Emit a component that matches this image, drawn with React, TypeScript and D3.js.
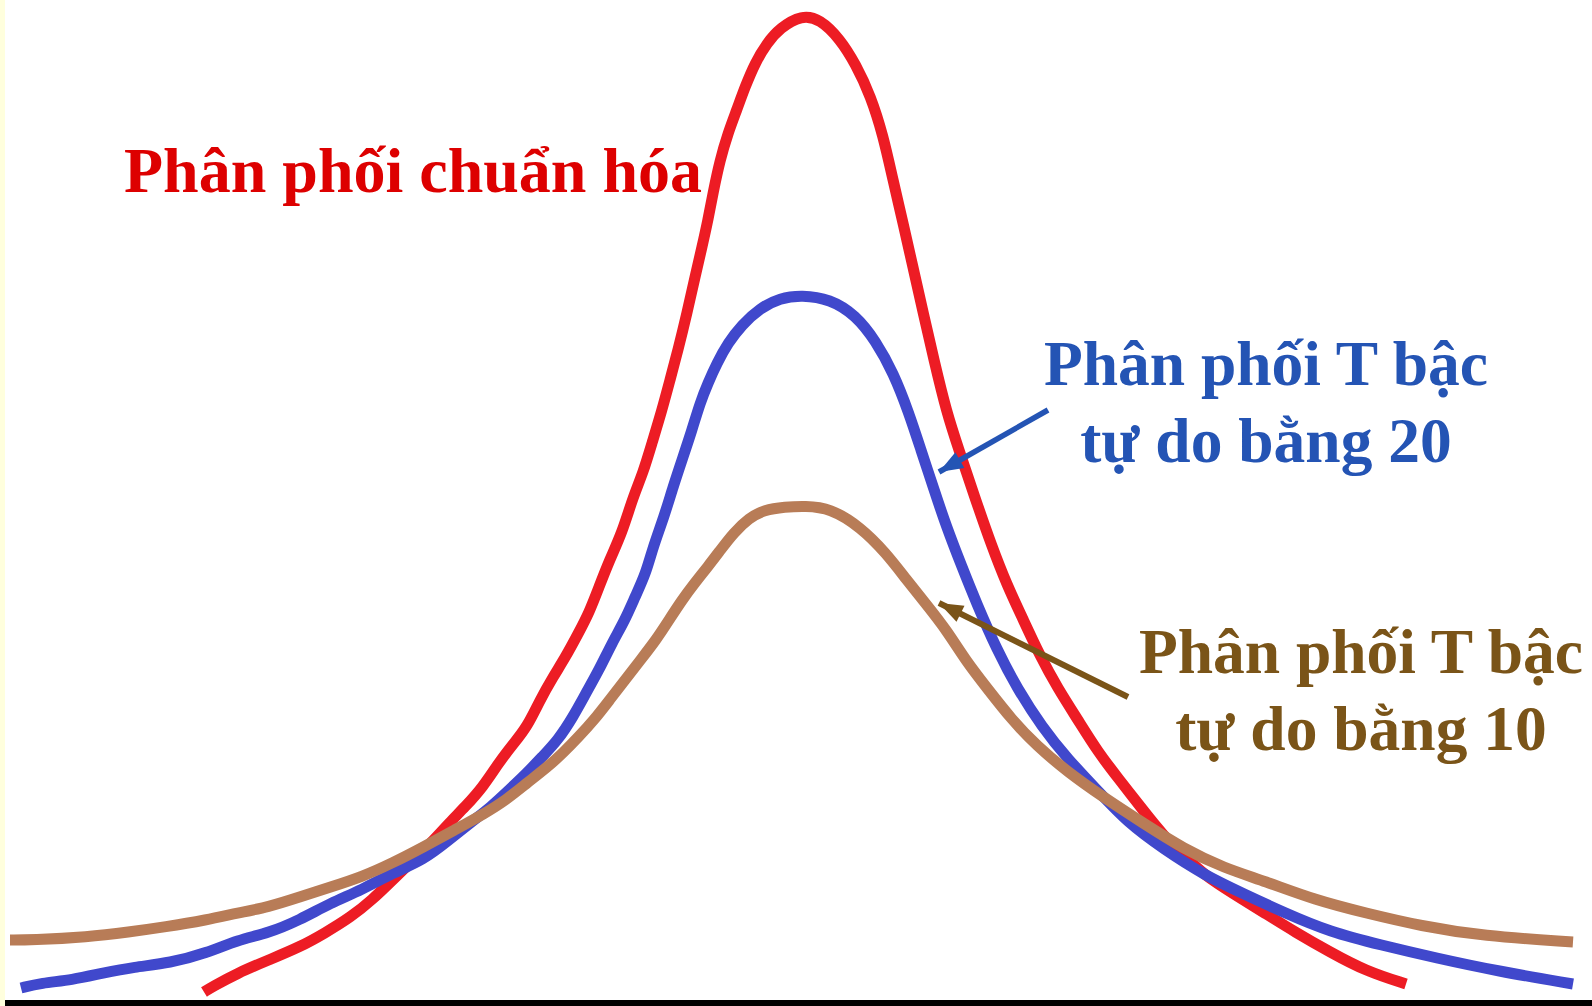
import React, { useEffect } from "react";
import * as d3 from "d3";

// ---- Data (x in standard units, y = relative density) ----
const normalX = [-3.005, -2.965, -2.837, -2.682, -2.525, -2.4, -2.27, -2.165, -2.062, -1.96, -1.855, -1.78, -1.7, -1.61, -1.5325, -1.455, -1.39, -1.325, -1.26, -1.197, -1.1325, -1.08, -1.03, -0.9775, -0.915, -0.86, -0.81, -0.765, -0.715, -0.675, -0.635, -0.59, -0.55, -0.515, -0.485, -0.46, -0.425, -0.385, -0.3415, -0.3, -0.25, -0.19, -0.125, -0.017, 0.075, 0.175, 0.253, 0.3285, 0.39, 0.44, 0.4925, 0.543, 0.5935, 0.645, 0.7075, 0.77, 0.845, 0.935, 1.01, 1.085, 1.175, 1.263, 1.365, 1.465, 1.565, 1.69, 1.793, 1.895, 1.995, 2.145, 2.298, 2.45, 2.625, 2.803, 3.005];
const normalY = [0.004, 0.0065, 0.0135, 0.02, 0.0265, 0.0335, 0.0415, 0.05, 0.06, 0.07, 0.08, 0.0885, 0.0965, 0.1065, 0.1185, 0.1285, 0.1365, 0.15, 0.1615, 0.1715, 0.1835, 0.1935, 0.2065, 0.22, 0.2335, 0.2515, 0.2635, 0.2785, 0.295, 0.31, 0.325, 0.3435, 0.3615, 0.3765, 0.39, 0.4035, 0.42, 0.4335, 0.445, 0.4565, 0.4685, 0.4785, 0.486, 0.4925, 0.4905, 0.4805, 0.468, 0.452, 0.4325, 0.41, 0.3875, 0.365, 0.3425, 0.32, 0.294, 0.275, 0.2525, 0.2265, 0.2075, 0.1915, 0.172, 0.156, 0.14, 0.124, 0.111, 0.095, 0.082, 0.0725, 0.0625, 0.053, 0.0435, 0.034, 0.024, 0.0145, 0.008];

const t20X = [-3.92, -3.82, -3.665, -3.51, -3.355, -3.175, -2.992, -2.837, -2.682, -2.527, -2.372, -2.217, -2.062, -1.9075, -1.78, -1.675, -1.57, -1.48, -1.39, -1.315, -1.235, -1.16, -1.095, -1.03, -0.965, -0.9, -0.85, -0.795, -0.76, -0.705, -0.66, -0.61, -0.565, -0.525, -0.485, -0.44, -0.385, -0.3165, -0.225, -0.125, -0.017, 0.125, 0.253, 0.354, 0.442, 0.518, 0.58, 0.644, 0.7075, 0.783, 0.859, 0.96, 1.06, 1.185, 1.3135, 1.465, 1.615, 1.793, 1.995, 2.195, 2.4, 2.625, 2.88, 3.155, 3.46, 3.84];
const t20Y = [0.006, 0.0085, 0.01, 0.0135, 0.0165, 0.0185, 0.0235, 0.03, 0.0335, 0.04, 0.0485, 0.055, 0.0635, 0.07, 0.08, 0.0885, 0.0965, 0.105, 0.1135, 0.1215, 0.13, 0.1415, 0.1535, 0.165, 0.1785, 0.19, 0.2015, 0.2135, 0.2265, 0.2415, 0.2565, 0.2715, 0.285, 0.2985, 0.3085, 0.3185, 0.3285, 0.3375, 0.346, 0.351, 0.3525, 0.3505, 0.3425, 0.3295, 0.3135, 0.294, 0.275, 0.2555, 0.2365, 0.217, 0.198, 0.175, 0.156, 0.1365, 0.1205, 0.1045, 0.0885, 0.0755, 0.0625, 0.053, 0.0435, 0.034, 0.0275, 0.021, 0.0145, 0.008];

const t10X = [-3.975, -3.87, -3.585, -3.38, -3.2, -2.992, -2.837, -2.682, -2.527, -2.372, -2.217, -2.062, -1.9075, -1.7525, -1.5975, -1.495, -1.39, -1.2875, -1.21, -1.1325, -1.055, -0.9775, -0.9, -0.8225, -0.745, -0.68, -0.615, -0.5515, -0.487, -0.4225, -0.3575, -0.28, -0.205, -0.1, 0, 0.125, 0.278, 0.405, 0.505, 0.605, 0.7075, 0.8085, 0.91, 1.035, 1.16, 1.3135, 1.49, 1.69, 1.895, 2.095, 2.298, 2.55, 2.803, 3.08, 3.385, 3.84];
const t10Y = [0.03, 0.03, 0.0315, 0.034, 0.0365, 0.04, 0.0435, 0.0465, 0.0515, 0.0565, 0.0615, 0.0685, 0.0765, 0.085, 0.0935, 0.1, 0.1085, 0.1165, 0.1235, 0.1315, 0.14, 0.15, 0.16, 0.17, 0.18, 0.19, 0.2, 0.2085, 0.2165, 0.225, 0.2335, 0.241, 0.245, 0.2465, 0.247, 0.246, 0.2365, 0.2235, 0.2105, 0.198, 0.185, 0.169, 0.156, 0.14, 0.127, 0.114, 0.1015, 0.0885, 0.0755, 0.066, 0.0595, 0.05, 0.0435, 0.037, 0.032, 0.029];

const seriesNames = ["Phân phối chuẩn hóa", "Phân phối T bậc tự do bằng 20", "Phân phối T bậc tự do bằng 10"];
const curveColors = ["#ED1C24", "#4048CC", "#B87C57"];

// annotation arrows in data units: [fromX, fromY, toX, toY]
const arrow20 = [1.215, 0.295, 0.67, 0.264];
const arrow10 = [1.615, 0.1515, 0.67, 0.1985];

const W = 1592;
const H = 1006;

export default function App() {
  useEffect(() => {
    document.body.style.margin = "0";
    document.body.style.overflow = "hidden";
  }, []);

  const x = d3.scaleLinear().domain([-4, 4]).range([5, 1605]);
  const y = d3.scaleLinear().domain([0, 0.5]).range([1000, 0]);

  const line = d3
    .line<[number, number]>()
    .x((d) => x(d[0]))
    .y((d) => y(d[1]))
    .curve(d3.curveBasis);

  const series: [number, number][][] = [
    normalX.map((v, i) => [v, normalY[i]]),
    t20X.map((v, i) => [v, t20Y[i]]),
    t10X.map((v, i) => [v, t10Y[i]]),
  ];

  const font = "'Liberation Serif', 'Times New Roman', serif";
  const blueText = "#2454B4";
  const brownText = "#7A5418";

  return (
    <svg
      width={W}
      height={H}
      style={{ position: "absolute", left: 0, top: 0, background: "#fff" }}
    >
      <defs>
        <marker id="ahBlue" viewBox="-26 -10 28 20" markerWidth={28} markerHeight={20} refX={0} refY={0} orient="auto" markerUnits="userSpaceOnUse">
          <path d="M0,0 L-24,-9 L-24,9 Z" fill={blueText} />
        </marker>
        <marker id="ahBrown" viewBox="-26 -10 28 20" markerWidth={28} markerHeight={20} refX={0} refY={0} orient="auto" markerUnits="userSpaceOnUse">
          <path d="M0,0 L-24,-9 L-24,9 Z" fill={brownText} />
        </marker>
      </defs>
      <rect x={0} y={0} width={W} height={H} fill="#ffffff" />
      <rect x={0} y={0} width={5} height={H} fill="#FFFFDD" />

      {series.map((s, i) => (
        <path
          key={seriesNames[i]}
          d={line(s) || ""}
          fill="none"
          stroke={curveColors[i]}
          strokeWidth={11}
          strokeLinejoin="round"
        />
      ))}

      <rect x={5} y={1000} width={W - 5} height={6} fill="#000" />

      <line
        x1={x(arrow20[0])}
        y1={y(arrow20[1])}
        x2={x(arrow20[2])}
        y2={y(arrow20[3])}
        stroke={blueText}
        strokeWidth={5.5}
        markerEnd="url(#ahBlue)"
      />
      <line
        x1={x(arrow10[0])}
        y1={y(arrow10[1])}
        x2={x(arrow10[2])}
        y2={y(arrow10[3])}
        stroke={brownText}
        strokeWidth={6}
        markerEnd="url(#ahBrown)"
      />

      <g fontFamily={font} fontWeight="bold">
        <text x={124} y={192} fill="#DD0000" fontSize={64}>Phân phối chuẩn hóa</text>
        <text x={1266} y={385} fill={blueText} textAnchor="middle" fontSize={63.5}>Phân phối T bậc</text>
        <text x={1266} y={462} fill={blueText} textAnchor="middle" fontSize={63.5}>tự do bằng 20</text>
        <text x={1361} y={673} fill={brownText} textAnchor="middle" fontSize={63.5}>Phân phối T bậc</text>
        <text x={1361} y={750} fill={brownText} textAnchor="middle" fontSize={63.5}>tự do bằng 10</text>
      </g>
    </svg>
  );
}
